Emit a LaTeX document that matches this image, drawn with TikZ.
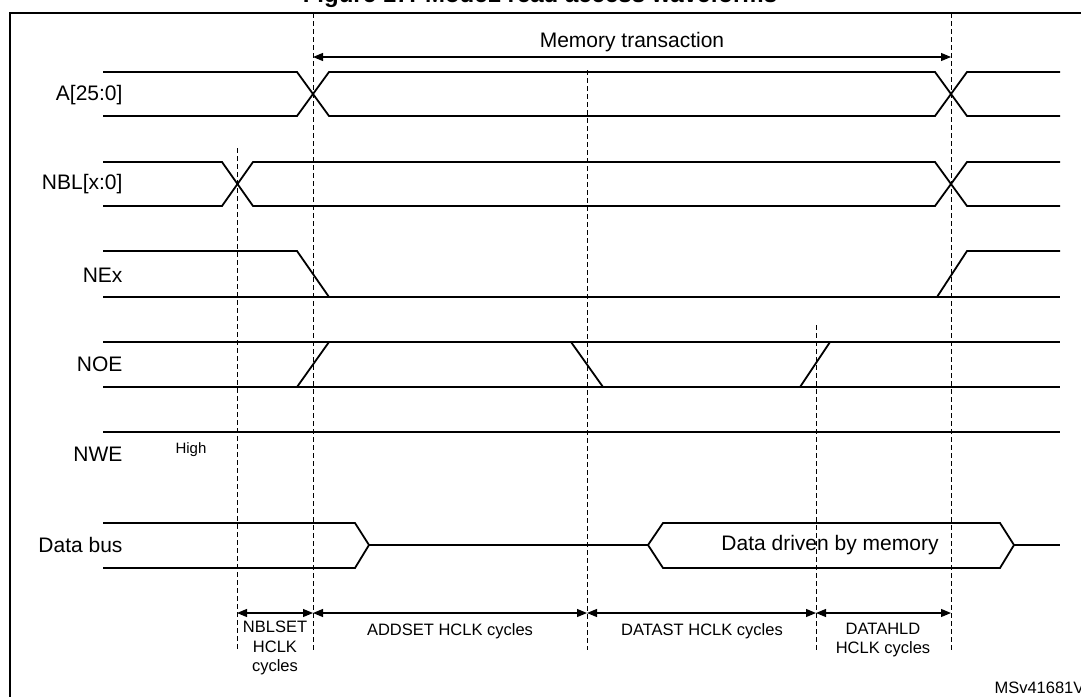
\documentclass[tikz,border=0pt]{standalone}
\usepackage{fontspec}
\setmainfont{Liberation Sans}
\usetikzlibrary{arrows.meta}
\begin{document}
\begin{tikzpicture}[x=1pt,y=-1pt,
  sig/.style={line width=1.8pt,line join=miter},
  grid/.style={dashed,line width=0.7pt,dash pattern=on 5pt off 3pt},
  dim/.style={line width=1.1pt,{Triangle[length=10pt,width=8pt]}-{Triangle[length=10pt,width=8pt]}},
  lab/.style={anchor=east,font=\fontsize{21}{24}\selectfont},
  small/.style={font=\fontsize{16.5}{19.5}\selectfont,align=center}]
\useasboundingbox (0,0) rectangle (1081,696);
\clip (0,0) rectangle (1081,696);
\node[font=\bfseries\fontsize{24}{28}\selectfont] (title) at (540,-4) {Figure 17. Mode1 read access waveforms};
\draw[line width=1.4pt] (10,13) rectangle (1095,710);
% grid lines
\draw[grid] (313,13) -- (313,650);
\draw[grid] (951,13) -- (951,650);
\draw[grid] (237,148) -- (237,650);
\draw[grid] (587,70) -- (587,650);
\draw[grid] (816,325) -- (816,650);
% memory transaction
\coordinate (mt1) at (313,57); \coordinate (mt2) at (951,57);
\draw[dim] (mt1) -- (mt2);
\node[font=\fontsize{21}{24}\selectfont] (mtl) at (632,42) {Memory transaction};
% labels
\node[lab] (lA) at (126,95) {A[25:0]};
\node[lab] (lN) at (126,184) {NBL[x:0]};
\node[lab] (lE) at (126,275) {NEx};
\node[lab] (lO) at (126,364) {NOE};
\node[lab] (lW) at (126,454) {NWE};
\node[lab] (lD) at (126,545) {Data bus};
\node[font=\fontsize{15}{18}\selectfont] (hi) at (191,450) {High};
% A
\draw[sig] (103,72) -- (297,72) -- (329,116) -- (935,116) -- (967,72) -- (1060,72);
\draw[sig] (103,116) -- (297,116) -- (329,72) -- (935,72) -- (967,116) -- (1060,116);
% NBL
\draw[sig] (103,162) -- (222,162) -- (253,206) -- (935,206) -- (967,162) -- (1060,162);
\draw[sig] (103,206) -- (222,206) -- (253,162) -- (935,162) -- (967,206) -- (1060,206);
% NEx
\draw[sig] (103,251) -- (297,251) -- (329,297);
\draw[sig] (937,297) -- (967,251) -- (1060,251);
\draw[sig] (103,297) -- (1060,297);
% NOE
\draw[sig] (103,342) -- (1060,342);
\draw[sig] (103,387) -- (1060,387);
\draw[sig] (297,387) -- (329,342);
\draw[sig] (571,342) -- (603,387);
\draw[sig] (800,387) -- (830,342);
% NWE
\draw[sig] (103,432) -- (1060,432);
% Data bus
\draw[sig] (103,523) -- (355,523) -- (369,545) -- (355,568) -- (103,568);
\draw[sig] (369,545) -- (648,545);
\draw[sig] (1014,545) -- (1060,545);
\draw[sig] (663,523) -- (648,545) -- (663,568) -- (1000,568) -- (1014,545) -- (1000,523) -- cycle;
\node[font=\fontsize{21}{24}\selectfont] (dd) at (830,545) {Data driven by memory};
% dimension arrows
\coordinate (d1) at (237,613); \coordinate (d2) at (313,613); \coordinate (d3) at (587,613);
\coordinate (d4) at (816,613); \coordinate (d5) at (951,613);
\draw[dim] (d1) -- (d2); \draw[dim] (d2) -- (d3); \draw[dim] (d3) -- (d4); \draw[dim] (d4) -- (d5);
\node[small] (t1) at (275,648) {NBLSET\\HCLK\\cycles};
\node[small] (t2) at (450,631) {ADDSET HCLK cycles};
\node[small] (t3) at (702,631) {DATAST HCLK cycles};
\node[small] (t4) at (883,640) {DATAHLD\\HCLK cycles};
\node[small,anchor=west] (ms) at (991,688) {MSv41681V1};
\end{tikzpicture}
\end{document}
